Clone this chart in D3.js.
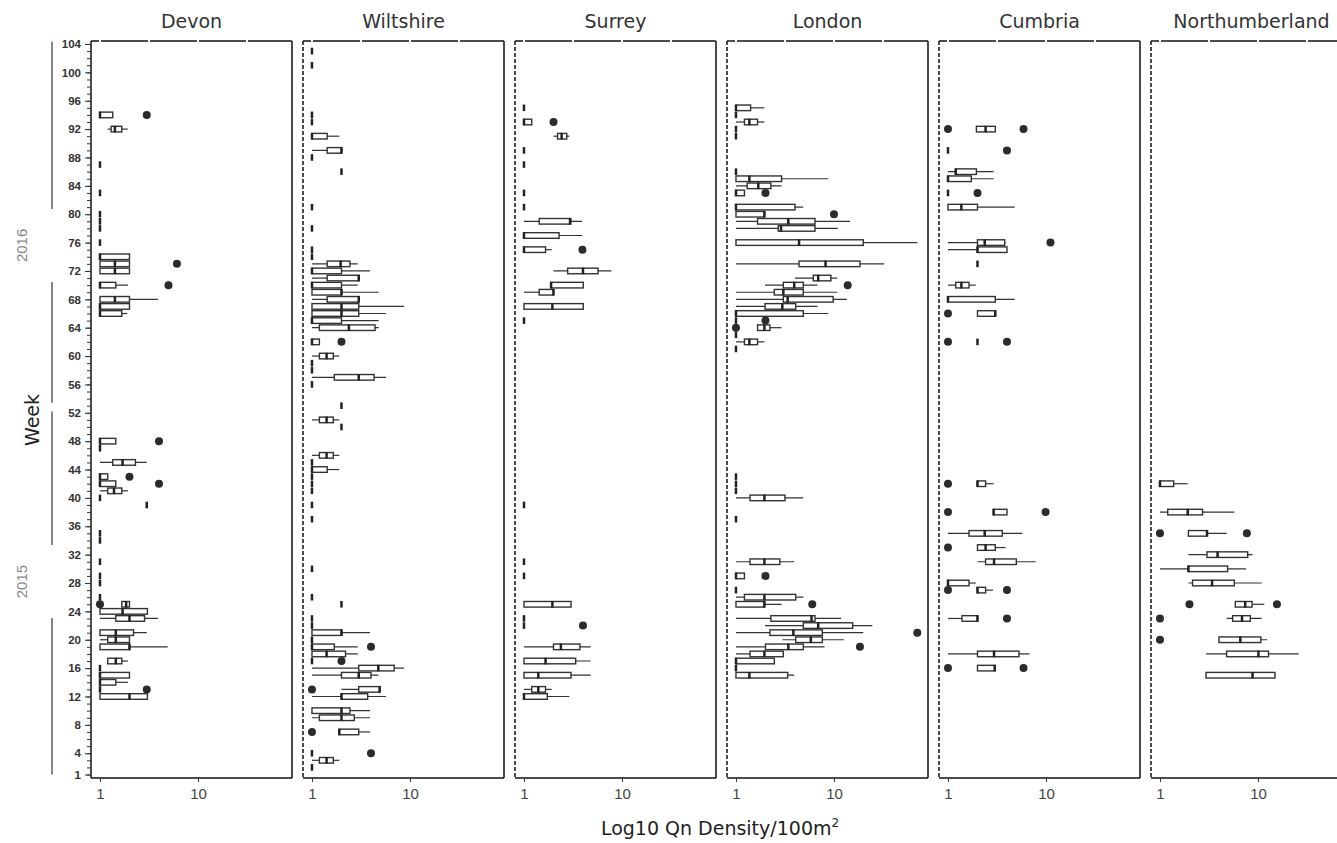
<!DOCTYPE html>
<meta charset="utf-8">
<style>
body { margin: 0; background: #fff; }
text { font-family: "DejaVu Sans", sans-serif; }
.box { fill: #fff; stroke: #333; stroke-width: 1.4; }
.whisker { stroke: #333; stroke-width: 1.2; }
.median { stroke: #222; stroke-width: 2.5; }
.outlier { fill: #2b2b2b; }
.frame { stroke: #111; stroke-width: 1.5; fill: none; }
.ytick text { font-family: "Liberation Sans", sans-serif; font-weight: bold; font-size: 11.5px; fill: #333; }
.xtick text { font-family: "Liberation Sans", sans-serif; font-size: 15px; fill: #444; }
</style>
<body></body>
<script src="https://d3js.org/d3.v7.min.js"></script>
<script>
var regions = ["Devon", "Wiltshire", "Surrey", "London", "Cumbria", "Northumberland"];

// each row: [week, low whisker, q1, median, q3, high whisker, [outliers]]
var devon = [
  [94, 1, 1, 1, 1.35, 1.35, [3]],
  [92, 1.2, 1.3, 1.42, 1.67, 1.92, []],
  [87, 1, 1, 1, 1, 1, []], [83, 1, 1, 1, 1, 1, []],
  [80, 1, 1, 1, 1, 1, []], [79, 1, 1, 1, 1, 1, []], [78, 1, 1, 1, 1, 1, []],
  [76, 1, 1, 1, 1, 1, []],
  [74, 1, 1, 1, 2, 2, []],
  [73, 1, 1, 1.42, 2, 2, [6.1]],
  [72, 1, 1, 1.42, 2, 2, []],
  [70, 1, 1, 1, 1.45, 1.93, [5]],
  [68, 1, 1, 1.42, 2, 3.9, []],
  [67, 1, 1, 1, 2, 2, []],
  [66, 1, 1, 1, 1.67, 1.9, []],
  [48, 1, 1, 1, 1.45, 1.45, [4]],
  [47, 1, 1, 1, 1, 1, []],
  [45, 1, 1.35, 1.7, 2.3, 3, []],
  [43, 1, 1, 1, 1.2, 1.2, [2]],
  [42, 1, 1, 1, 1.45, 1.45, [4]],
  [41, 1, 1.2, 1.39, 1.67, 1.93, []],
  [40, 1, 1, 1, 1, 1, []],
  [39, 3, 3, 3, 3, 3, []],
  [35, 1, 1, 1, 1, 1, []], [34, 1, 1, 1, 1, 1, []],
  [31, 1, 1, 1, 1, 1, []], [29, 1, 1, 1, 1, 1, []], [28, 1, 1, 1, 1, 1, []],
  [26, 1, 1, 1, 1, 1, []],
  [25, 1.67, 1.67, 1.85, 2, 2, [1]],
  [24, 1, 1, 1.7, 3.05, 3.05, []],
  [23, 1, 1.45, 2, 2.85, 3.9, []],
  [21, 1, 1, 1.45, 2.2, 3, []],
  [20, 1, 1.2, 1.45, 2, 2, []],
  [19, 1, 1, 2, 2, 4.9, []],
  [17, 1.2, 1.2, 1.45, 1.67, 1.93, []],
  [16, 1, 1, 1, 1, 1, []],
  [15, 1, 1, 1, 2, 2, []],
  [14, 1, 1, 1, 1.45, 1.93, []],
  [13, 1, 1, 1, 1, 1, [3]],
  [12, 1, 1, 2, 3.05, 3.05, []]
];

var wiltshire = [
  [103, 1, 1, 1, 1, 1, []], [101, 1, 1, 1, 1, 1, []],
  [94, 1, 1, 1, 1, 1, []], [93, 1, 1, 1, 1, 1, []],
  [91, 1, 1, 1, 1.43, 1.9, []],
  [89, 1, 1.43, 2, 2, 2, []],
  [88, 1, 1, 1, 1, 1, []],
  [86, 2, 2, 2, 2, 2, []],
  [81, 1, 1, 1, 1, 1, []], [78, 1, 1, 1, 1, 1, []],
  [75, 1, 1, 1, 1, 1, []], [74, 1, 1, 1, 1, 1, []],
  [73, 1, 1.43, 1.96, 2.44, 2.93, []],
  [72, 1, 1, 1, 2, 3.9, []],
  [71, 1, 1.43, 3, 3, 3, []],
  [70, 1, 1, 1, 2, 2.93, []],
  [69, 1, 1, 2, 2, 4.8, []],
  [68, 1, 1.43, 3, 3, 3, []],
  [67, 1, 1, 2, 3, 8.7, []],
  [66, 1, 1, 2, 3, 5.7, []],
  [65, 1, 1, 1, 2, 4.8, []],
  [64, 1, 1.19, 2.38, 4.4, 4.8, []],
  [62, 1, 1, 1, 1.19, 1.19, [2]],
  [60, 1, 1.19, 1.41, 1.65, 1.9, []],
  [59, 1, 1, 1, 1, 1, []], [58, 1, 1, 1, 1, 1, []],
  [57, 1, 1.69, 3, 4.3, 5.7, []],
  [56, 1, 1, 1, 1, 1, []],
  [53, 2, 2, 2, 2, 2, []],
  [51, 1, 1.19, 1.41, 1.65, 1.9, []],
  [50, 2, 2, 2, 2, 2, []],
  [46, 1, 1.19, 1.41, 1.65, 1.9, []],
  [45, 1, 1, 1, 1, 1, []],
  [44, 1, 1, 1, 1.43, 1.9, []],
  [43, 1, 1, 1, 1, 1, []], [42, 1, 1, 1, 1, 1, []], [41, 1, 1, 1, 1, 1, []],
  [39, 1, 1, 1, 1, 1, []], [37, 1, 1, 1, 1, 1, []],
  [30, 1, 1, 1, 1, 1, []], [26, 1, 1, 1, 1, 1, []],
  [25, 2, 2, 2, 2, 2, []],
  [23, 1, 1, 1, 1, 1, []], [22, 1, 1, 1, 1, 1, []],
  [21, 1, 1, 2, 2, 3.9, []],
  [20, 1, 1, 1, 1, 1, []],
  [19, 1, 1, 1, 1.69, 2.93, [4]],
  [18, 1, 1, 1.41, 2.2, 2.93, []],
  [17, 1, 1, 1, 1, 1, [2]],
  [16, 1, 3, 4.75, 6.9, 8.7, []],
  [15, 1, 2, 3, 4, 4.75, []],
  [13, 2, 3, 4.9, 4.9, 4.9, [1]],
  [12, 1, 2, 2, 3.7, 5.7, []],
  [10, 1, 1, 2, 2.44, 3.9, []],
  [9, 1, 1.19, 2, 2.7, 3.9, []],
  [7, 1.9, 1.9, 1.9, 3, 3.9, [1]],
  [4, 1, 1, 1, 1, 1, [4]],
  [3, 1, 1.19, 1.41, 1.65, 1.9, []],
  [2, 1, 1, 1, 1, 1, []]
];

var surrey = [
  [95, 1, 1, 1, 1, 1, []],
  [93, 1, 1, 1, 1.2, 1.2, [2]],
  [91, 2, 2.2, 2.42, 2.73, 2.9, []],
  [89, 1, 1, 1, 1, 1, []], [87, 1, 1, 1, 1, 1, []],
  [83, 1, 1, 1, 1, 1, []], [81, 1, 1, 1, 1, 1, []],
  [79, 1, 1.43, 2.95, 3, 3.93, []],
  [77, 1, 1, 1, 2.28, 3.93, []],
  [75, 1, 1, 1, 1.66, 1.92, [3.95]],
  [72, 2, 2.79, 4, 5.7, 7.8, []],
  [70, 1.89, 1.89, 1.89, 4.03, 4.03, []],
  [69, 1, 1.43, 2, 2, 2, []],
  [67, 1, 1, 1.95, 4.03, 4.03, []],
  [65, 1, 1, 1, 1, 1, []],
  [39, 1, 1, 1, 1, 1, []], [31, 1, 1, 1, 1, 1, []], [29, 1, 1, 1, 1, 1, []],
  [25, 1, 1, 1.95, 3.02, 3.02, []],
  [23, 1, 1, 1, 1, 1, []],
  [22, 1, 1, 1, 1, 1, [4]],
  [19, 1, 2, 2.38, 3.72, 4.8, []],
  [17, 1, 1, 1.66, 3.37, 4.8, []],
  [15, 1, 1, 1.4, 3.02, 4.8, []],
  [13, 1, 1.2, 1.4, 1.66, 1.92, []],
  [12, 1, 1, 1, 1.73, 2.9, []]
];

var london = [
  [95, 1, 1, 1, 1.41, 1.95, []],
  [94, 1, 1, 1, 1, 1, []],
  [93, 1, 1.22, 1.37, 1.66, 1.95, []],
  [92, 1, 1, 1, 1, 1, []], [91, 1, 1, 1, 1, 1, []],
  [86, 1, 1, 1, 1, 1, []],
  [85, 1, 1, 1.37, 2.92, 8.75, []],
  [84, 1, 1.3, 1.69, 2.27, 2.92, []],
  [83, 1, 1, 1, 1.22, 1.22, [2]],
  [81, 1, 1, 1, 4, 4.86, []],
  [80, 1, 1, 1.95, 1.95, 1.95, [10]],
  [79, 1, 1.66, 3.42, 6.4, 14.6, []],
  [78, 1, 2.7, 2.88, 6.4, 10.9, []],
  [76, 1, 1, 4.4, 19.9, 71, []],
  [73, 1, 4.4, 8.2, 18.4, 32.6, []],
  [71, 4, 6.15, 6.9, 9.3, 10.8, []],
  [70, 1.98, 3.04, 3.93, 4.86, 6.8, [13.8]],
  [69, 1, 2.46, 3.04, 4.86, 10.8, []],
  [68, 1, 3.04, 3.37, 9.8, 13.5, []],
  [67, 1, 1.98, 2.97, 4.07, 6.8, []],
  [66, 1, 1, 1, 4.86, 8.75, []],
  [65, 1, 1, 1, 1, 1, [2]],
  [64, 1.66, 1.66, 1.95, 2.22, 2.92, [1]],
  [63, 1, 1, 1, 1, 1, []],
  [62, 1, 1.22, 1.37, 1.66, 1.95, []],
  [61, 1, 1, 1, 1, 1, []],
  [43, 1, 1, 1, 1, 1, []], [42, 1, 1, 1, 1, 1, []], [41, 1, 1, 1, 1, 1, []],
  [40, 1, 1.39, 1.95, 3.16, 4.86, []],
  [37, 1, 1, 1, 1, 1, []],
  [31, 1, 1.39, 1.95, 2.8, 3.93, []],
  [29, 1, 1, 1, 1.22, 1.22, [2]],
  [27, 1, 1, 1, 1, 1, []],
  [26, 1, 1.22, 1.95, 4.07, 4.86, []],
  [25, 1, 1, 1.95, 1.95, 2.92, [6]],
  [23, 1, 2.27, 5.9, 6.4, 11.8, []],
  [22, 1.98, 4.86, 6.9, 15.5, 24.6, []],
  [21, 1, 2.22, 3.85, 7.6, 19.9, [70.8]],
  [20, 2.99, 4.07, 5.8, 7.6, 12.6, []],
  [19, 1, 2, 3.42, 4.86, 8, [18.4]],
  [18, 1, 1.39, 1.95, 3.04, 3.04, []],
  [17, 1, 1, 1, 2.46, 2.46, []],
  [16, 1, 1, 1, 1, 1, []],
  [15, 1, 1, 1.37, 3.37, 3.93, []]
];

var cumbria = [
  [92, 1.95, 1.95, 2.42, 3.04, 3.04, [1, 5.9]],
  [89, 1, 1, 1, 1, 1, [4]],
  [86, 1, 1.2, 1.2, 1.95, 2.92, []],
  [85, 1, 1, 1, 1.73, 2.92, []],
  [83, 1, 1, 1, 1, 1, [2]],
  [81, 1, 1, 1.37, 2, 4.79, []],
  [76, 1, 2, 2.37, 3.79, 3.87, [11.1]],
  [75, 1, 2, 2, 4, 4, []],
  [73, 2, 2, 2, 2, 2, []],
  [70, 1, 1.2, 1.37, 1.64, 1.92, []],
  [68, 1, 1, 1, 3.04, 4.79, []],
  [66, 2, 2, 3.04, 3.04, 3.04, [1]],
  [62, 2, 2, 2, 2, 2, [1, 4]],
  [42, 2, 2, 2, 2.42, 2.92, [1]],
  [38, 2.92, 2.92, 2.92, 4, 4, [1, 9.9]],
  [35, 1, 1.64, 2.37, 3.58, 5.74, []],
  [33, 2, 2, 2.42, 3.04, 3.87, [1]],
  [31, 2, 2.42, 2.95, 4.98, 7.85, []],
  [28, 1, 1, 1, 1.64, 1.92, []],
  [27, 2, 2, 2, 2.42, 2.88, [1, 4]],
  [23, 1, 1.39, 2, 2, 2, [4]],
  [18, 1, 2, 2.95, 5.3, 6.8, []],
  [16, 2, 2, 3, 3, 3, [1, 5.9]]
];

var northumberland = [
  [42, 1, 1, 1, 1.38, 1.92, []],
  [38, 1, 1.2, 1.92, 2.72, 5.73, []],
  [35, 1.95, 1.95, 3.02, 3.02, 4.79, [1, 7.7]],
  [32, 1.95, 3.02, 3.87, 7.85, 8.8, []],
  [30, 1, 1.95, 1.95, 4.9, 7.55, []],
  [28, 1.95, 2.15, 3.4, 5.73, 10.9, []],
  [25, 5.87, 5.87, 7.4, 8.7, 11.6, [2, 15.6]],
  [23, 4.79, 5.51, 6.87, 8.35, 10.9, [1]],
  [20, 3.97, 4, 6.6, 10.7, 12.4, [1]],
  [18, 2.95, 4.79, 10.1, 12.8, 26, []],
  [15, 2.95, 2.95, 8.8, 14.9, 15.2, []]
];

var panelData = [devon, wiltshire, surrey, london, cumbria, northumberland];

var weekTicks = [1, 4, 8, 12, 16, 20, 24, 28, 32, 36, 40, 44, 48, 52, 56, 60, 64, 68, 72, 76, 80, 84, 88, 92, 96, 100, 104];
var xTicks = [1, 10];
var topTicks = [1, 3.1623, 10, 31.623];
var years = ["2015", "2016"];
var yearSpan = [[1, 52.2], [53.4, 104.3]];
var yearLabelWeek = [28.2, 75.6];

// layout
var width = 1337, height = 843;
var left = 91, panelW = 201, step = 212, panelTop = 41, panelBottom = 778;

var svg = d3.select("body").append("svg")
    .attr("width", width)
    .attr("height", height);

var x = d3.scaleLog().domain([0.81, 91]).range([0, panelW]);
var y = d3.scaleLinear().domain([1, 104]).range([774.5, 44]);
var bh = 5.6;

regions.forEach(function(name, i) {
  var g = svg.append("g").attr("transform", "translate(" + (left + step * i) + ",0)");

  // panel title
  g.append("text")
    .attr("x", panelW / 2)
    .attr("y", 28)
    .attr("text-anchor", "middle")
    .style("font-size", "19px")
    .style("fill", "#333")
    .text(name);

  // boxplots
  var bp = g.selectAll(".bp")
    .data(panelData[i])
    .enter().append("g")
      .attr("class", "bp")
      .attr("transform", function(d) { return "translate(0," + y(d[0]) + ")"; });

  bp.append("line")
    .attr("class", "whisker")
    .attr("x1", function(d) { return x(d[1]); })
    .attr("x2", function(d) { return x(d[5]); });

  bp.append("rect")
    .attr("class", "box")
    .attr("x", function(d) { return x(d[2]); })
    .attr("y", -bh / 2)
    .attr("width", function(d) { return x(d[4]) - x(d[2]); })
    .attr("height", bh);

  bp.append("line")
    .attr("class", "median")
    .attr("x1", function(d) { return x(d[3]); })
    .attr("x2", function(d) { return x(d[3]); })
    .attr("y1", -bh / 2 - 0.5)
    .attr("y2", bh / 2 + 0.5);

  bp.selectAll(".outlier")
    .data(function(d) { return d[6]; })
    .enter().append("circle")
      .attr("class", "outlier")
      .attr("cx", function(v) { return x(v); })
      .attr("r", 4);

  // frame
  g.append("line").attr("class", "frame")
    .attr("x1", 0).attr("x2", panelW).attr("y1", panelTop).attr("y2", panelTop);
  g.append("line").attr("class", "frame")
    .attr("x1", panelW).attr("x2", panelW).attr("y1", panelTop).attr("y2", panelBottom);
  g.append("line").attr("class", "frame")
    .attr("x1", 0).attr("x2", panelW).attr("y1", panelBottom).attr("y2", panelBottom);
  g.append("line").attr("class", "frame")
    .attr("x1", 0).attr("x2", 0).attr("y1", panelTop).attr("y2", panelBottom)
    .style("stroke-dasharray", i === 0 ? null : "4,2");

  // white notches on the top edge
  g.selectAll(".notch")
    .data(topTicks)
    .enter().append("line")
      .attr("x1", function(d) { return x(d); })
      .attr("x2", function(d) { return x(d); })
      .attr("y1", panelTop - 2)
      .attr("y2", panelTop + 2)
      .style("stroke", "#fff")
      .style("stroke-width", 2);

  // bottom axis
  var xa = g.append("g")
    .attr("class", "xtick")
    .attr("transform", "translate(0," + panelBottom + ")")
    .call(d3.axisBottom(x).tickValues(xTicks).tickFormat(d3.format("d")).tickSize(4).tickPadding(6));
  xa.select(".domain").remove();
  xa.selectAll("line").style("stroke", "#333");
});

// y axis on the first panel
var ya = svg.append("g")
    .attr("class", "ytick")
    .attr("transform", "translate(" + left + ",0)")
    .call(d3.axisLeft(y).tickValues(d3.range(1, 105)).tickSize(4).tickFormat(""));
ya.select(".domain").remove();
ya.selectAll("line").style("stroke", "#333");

var ya2 = svg.append("g")
    .attr("class", "ytick")
    .attr("transform", "translate(" + left + ",0)")
    .call(d3.axisLeft(y).tickValues(weekTicks).tickSize(6).tickPadding(4));
ya2.select(".domain").remove();
ya2.selectAll("line").style("stroke", "#333");

// year brackets
var gapHalf = 36.5;
years.forEach(function(label, k) {
  var y0 = y(yearSpan[k][0]), y1 = y(yearSpan[k][1]), yl = y(yearLabelWeek[k]);
  svg.append("line")
    .attr("x1", 52).attr("x2", 52)
    .attr("y1", y1).attr("y2", yl - gapHalf)
    .style("stroke", "#444").style("stroke-width", 1.3);
  svg.append("line")
    .attr("x1", 52).attr("x2", 52)
    .attr("y1", yl + gapHalf).attr("y2", y0)
    .style("stroke", "#444").style("stroke-width", 1.3);
  svg.append("text")
    .attr("transform", "translate(27," + yl + ") rotate(-90)")
    .attr("text-anchor", "middle")
    .style("font-family", "Liberation Sans, sans-serif")
    .style("font-size", "15px")
    .style("fill", "#888")
    .text(label);
});

// axis titles
svg.append("text")
  .attr("transform", "translate(39,420) rotate(-90)")
  .attr("text-anchor", "middle")
  .style("font-size", "19px")
  .style("fill", "#222")
  .text("Week");

var xt = svg.append("text")
  .attr("x", 720)
  .attr("y", 835)
  .attr("text-anchor", "middle")
  .style("font-size", "19px")
  .style("fill", "#222");
xt.append("tspan").text("Log10 Qn Density/100m");
xt.append("tspan").attr("dy", -8).style("font-size", "12px").text("2");
</script>
